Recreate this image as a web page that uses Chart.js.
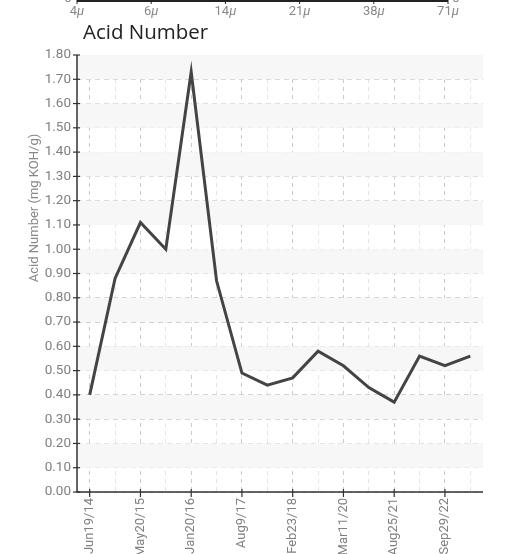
<!DOCTYPE html>
<html>
<head>
<meta charset="utf-8">
<script src="https://cdn.jsdelivr.net/npm/chart.js@4.4.1/dist/chart.umd.min.js"></script>
<style>
  html, body { margin: 0; padding: 0; background: #fff; }
  #wrap { width: 508px; height: 554px; position: relative; }
</style>
</head>
<body>
<div id="wrap"><canvas id="grafico" width="508" height="554"></canvas></div>
<script>
// sample dates (only every other one is labelled on the axis)
const dates = [
  'Jun19/14', 'Nov3/14', 'May20/15', 'Sep8/15', 'Jan20/16', 'Jul12/16',
  'Aug9/17', 'Oct2/17', 'Feb23/18', 'Jul30/19', 'Mar11/20', 'Dec1/20',
  'Aug25/21', 'Feb14/22', 'Sep29/22', 'Mar6/23'
];
const acidNumber = [0.40, 0.88, 1.11, 1.00, 1.73, 0.87, 0.49, 0.44,
                    0.47, 0.58, 0.52, 0.43, 0.37, 0.56, 0.52, 0.56];

// leftover axis of the chart above (particle size)
const topAxisLabels = ['4', '6', '14', '21', '38', '71'];

const labelFont = 'Roboto, "Liberation Sans", sans-serif';

const extras = {
  id: 'extras',
  beforeDatasetsDraw(chart) {
    const { ctx, chartArea: a, scales: { y } } = chart;
    // alternating bands
    ctx.save();
    ctx.fillStyle = '#f7f7f7';
    for (let v = 0.1; v < 1.8; v += 0.2) {
      const top = y.getPixelForValue(v + 0.1);
      const bot = y.getPixelForValue(v);
      ctx.fillRect(a.left, top, a.right - a.left, bot - top);
    }
    ctx.restore();
  },
  afterDraw(chart) {
    const { ctx, chartArea: a, scales: { x, y } } = chart;
    ctx.save();
    // axis lines + inner part of the tick marks
    ctx.strokeStyle = '#333';
    ctx.lineWidth = 1.5;
    ctx.beginPath(); ctx.moveTo(a.left, a.top); ctx.lineTo(a.left, a.bottom); ctx.lineTo(a.right, a.bottom); ctx.stroke();
    ctx.lineWidth = 1.2;
    y.ticks.forEach((t, i) => {
      const py = y.getPixelForTick(i);
      ctx.beginPath(); ctx.moveTo(a.left - 4, py); ctx.lineTo(a.left + 3, py); ctx.stroke();
    });
    x.ticks.forEach((t, i) => {
      if (i % 2) return;
      const px = x.getPixelForTick(i);
      ctx.beginPath(); ctx.moveTo(px, a.bottom + 5); ctx.lineTo(px, a.bottom - 3); ctx.stroke();
    });

    // top strip: bottom of previous chart
    const x0 = 77, x1 = 448;
    ctx.strokeStyle = '#222';
    ctx.lineWidth = 2;
    ctx.beginPath(); ctx.moveTo(x0, 1); ctx.lineTo(x1, 1); ctx.stroke();
    ctx.fillStyle = '#888';
    ctx.textBaseline = 'middle';
    topAxisLabels.forEach((lab, i) => {
      const px = x0 + (x1 - x0) * i / (topAxisLabels.length - 1);
      ctx.lineWidth = 1;
      ctx.beginPath(); ctx.moveTo(px, 0); ctx.lineTo(px, 4); ctx.stroke();
      ctx.font = '13px ' + labelFont;
      const w1 = ctx.measureText(lab).width;
      ctx.font = 'italic 13px ' + labelFont;
      const w2 = ctx.measureText('\u03bc').width;
      const sx = px - (w1 + w2) / 2;
      ctx.font = '13px ' + labelFont;
      ctx.textAlign = 'left';
      ctx.fillText(lab, sx, 12);
      ctx.font = 'italic 13px ' + labelFont;
      ctx.fillText('\u03bc', sx + w1, 12);
    });
    ctx.font = '13px ' + labelFont;
    ctx.textAlign = 'center';
    ctx.textBaseline = 'bottom';
    ctx.fillText('0', 68, 5);
    ctx.fillText('0', 456, 5);

    // title
    ctx.fillStyle = '#222';
    ctx.font = '20.5px "Open Sans", sans-serif';
    ctx.textAlign = 'left';
    ctx.textBaseline = 'alphabetic';
    ctx.fillText('Acid Number', 83, 39);

    // y axis title
    ctx.translate(35, 208);
    ctx.rotate(-Math.PI / 2);
    ctx.fillStyle = '#888';
    ctx.font = '13px ' + labelFont;
    ctx.textAlign = 'center';
    ctx.textBaseline = 'middle';
    ctx.fillText('Acid Number (mg KOH/g)', 0, 0);
    ctx.restore();
  }
};

const ctx = document.getElementById('grafico').getContext('2d');

new Chart(ctx, {
  type: 'line',
  data: {
    labels: dates,
    datasets: [{
      label: 'Acid Number',
      data: acidNumber,
      borderColor: '#444',
      borderWidth: 3,
      pointRadius: 0,
      tension: 0,
      fill: false
    }]
  },
  options: {
    responsive: false,
    animation: false,
    layout: { padding: { top: 55, right: 25, left: 0, bottom: 0 } },
    plugins: {
      legend: { display: false },
      title: { display: false },
      tooltip: { enabled: false }
    },
    scales: {
      x: {
        offset: true,
        afterFit(scale) { scale.height = 62; },
        border: { display: false, dash: [4, 4] },
        grid: {
          offset: false,
          color: c => (c.index % 2 ? '#e4e4e4' : '#cccccc'),
          drawTicks: true,
          tickColor: 'rgba(0,0,0,0)',
          tickLength: 5
        },
        ticks: {
          autoSkip: false,
          maxRotation: 90,
          minRotation: 90,
          padding: 1,
          color: '#808080',
          font: { family: labelFont, size: 13 },
          callback: function (v, i) { return i % 2 ? '' : this.getLabelForValue(v); }
        }
      },
      y: {
        min: 0,
        max: 1.8,
        afterFit(scale) { scale.width = 77; },
        border: { display: false, dash: [5, 4] },
        grid: {
          color: '#cfcfcf',
          tickColor: 'rgba(0,0,0,0)',
          tickLength: 4
        },
        ticks: {
          stepSize: 0.1,
          padding: 2,
          color: '#808080',
          font: { family: labelFont, size: 13.5 },
          callback: v => v.toFixed(2)
        }
      }
    }
  },
  plugins: [extras]
});
</script>
</body>
</html>
